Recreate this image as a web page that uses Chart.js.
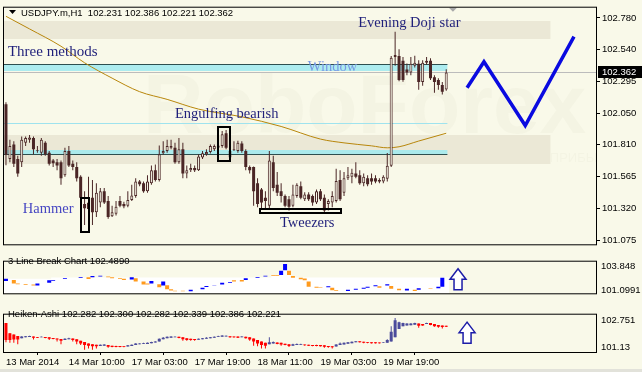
<!DOCTYPE html>
<html>
<head>
<meta charset="utf-8">
<script src="https://cdn.jsdelivr.net/npm/chart.js@4.4.1/dist/chart.umd.min.js"></script>
<style>
  html, body { margin: 0; padding: 0; background: #f9f9e9; }
  #wrap { position: relative; width: 642px; height: 372px; overflow: hidden; background: #f9f9e9; }
  #wrap canvas { position: absolute; left: 0; }
  #main { top: 0; }
  #lbreak { top: 251px; }
  #heiken { top: 304px; }
  #foot { position: absolute; left: 0; bottom: 0; width: 642px; height: 3px; background: #e2e2da; }
</style>
</head>
<body>
<div id="wrap">
  <canvas id="main" width="642" height="252"></canvas>
  <canvas id="lbreak" width="642" height="53"></canvas>
  <canvas id="heiken" width="642" height="68"></canvas>
  <div id="foot"></div>
</div>
<script>
// bar index range shown on the time axis
const xMin = -0.5;
const xMax = 150.1;

const priceTicks = [101.075, 101.320, 101.565, 101.810, 102.050, 102.295, 102.540, 102.780];
const lbTicks = [101.0991, 103.848];
const haTicks = [101.13, 102.751];

const timeBars = [0, 16, 32, 48, 64, 80, 96];
const timeLabels = ['13 Mar 2014', '14 Mar 10:00', '17 Mar 03:00', '17 Mar 19:00', '18 Mar 11:00', '19 Mar 03:00', '19 Mar 19:00'];

// USDJPY H1 candles
const opens = [
  102.117, 101.697, 101.808, 101.697, 101.672, 101.821, 101.845, 101.858, 101.759, 101.746,
  101.821, 101.746, 101.685, 101.672, 101.672, 101.573, 101.759, 101.660, 101.635, 101.561,
  101.351, 101.314, 101.400, 101.289, 101.363, 101.450, 101.375, 101.257, 101.277, 101.375,
  101.351, 101.338, 101.383, 101.413, 101.524, 101.511, 101.450, 101.511, 101.610, 101.536,
  101.741, 101.759, 101.783, 101.783, 101.672, 101.771, 101.586, 101.610, 101.628, 101.610,
  101.709, 101.734, 101.751, 101.771, 101.783, 101.796, 101.895, 101.709, 101.766, 101.759,
  101.816, 101.759, 101.635, 101.635, 101.511, 101.462, 101.400, 101.338, 101.672, 101.499,
  101.450, 101.413, 101.388, 101.338, 101.413, 101.487, 101.388, 101.425, 101.413, 101.363,
  101.450, 101.400, 101.351, 101.363, 101.375, 101.536, 101.437, 101.549, 101.561, 101.586,
  101.573, 101.511, 101.549, 101.549, 101.549, 101.536, 101.524, 101.546, 101.646, 102.480,
  102.488, 102.451, 102.385, 102.362, 102.414, 102.429, 102.288, 102.436, 102.451, 102.325,
  102.303, 102.266, 102.231
];
const highs = [
  102.132, 101.845, 101.833, 101.722, 101.870, 101.870, 101.882, 101.870, 101.796, 101.858,
  101.833, 101.759, 101.697, 101.697, 101.685, 101.783, 101.796, 101.685, 101.672, 101.573,
  101.450, 101.561, 101.536, 101.511, 101.474, 101.474, 101.413, 101.338, 101.375, 101.413,
  101.368, 101.450, 101.499, 101.549, 101.536, 101.524, 101.573, 101.647, 101.655, 101.801,
  101.833, 101.845, 101.845, 101.821, 101.858, 101.821, 101.647, 101.660, 101.647, 101.734,
  101.759, 101.771, 101.808, 101.808, 101.816, 101.912, 101.919, 101.771, 101.833, 101.838,
  101.833, 101.771, 101.647, 101.640, 101.549, 101.474, 101.450, 101.759, 101.722, 101.598,
  101.511, 101.425, 101.413, 101.499, 101.511, 101.524, 101.442, 101.442, 101.425, 101.462,
  101.467, 101.425, 101.388, 101.450, 101.623, 101.610, 101.598, 101.635, 101.623, 101.672,
  101.610, 101.586, 101.573, 101.586, 101.573, 101.549, 101.573, 101.743, 102.488, 102.674,
  102.540, 102.480, 102.430, 102.480, 102.490, 102.455, 102.455, 102.480, 102.470, 102.340,
  102.318, 102.288, 102.386
];
const lows = [
  101.650, 101.672, 101.635, 101.561, 101.635, 101.796, 101.821, 101.734, 101.746, 101.722,
  101.722, 101.647, 101.635, 101.610, 101.499, 101.561, 101.635, 101.610, 101.524, 101.388,
  101.190, 101.289, 101.190, 101.252, 101.326, 101.351, 101.239, 101.252, 101.264, 101.326,
  101.319, 101.326, 101.375, 101.400, 101.487, 101.437, 101.437, 101.499, 101.524, 101.524,
  101.729, 101.746, 101.771, 101.660, 101.660, 101.549, 101.549, 101.598, 101.598, 101.605,
  101.697, 101.722, 101.739, 101.759, 101.771, 101.783, 101.771, 101.697, 101.759, 101.746,
  101.746, 101.610, 101.586, 101.338, 101.326, 101.314, 101.314, 101.314, 101.450, 101.413,
  101.363, 101.326, 101.301, 101.326, 101.400, 101.388, 101.375, 101.375, 101.338, 101.351,
  101.375, 101.289, 101.301, 101.326, 101.363, 101.375, 101.413, 101.536, 101.511, 101.549,
  101.499, 101.487, 101.487, 101.499, 101.511, 101.511, 101.511, 101.524, 101.635, 102.414,
  102.295, 102.290, 102.340, 102.340, 102.400, 102.229, 102.260, 102.420, 102.303, 102.206,
  102.229, 102.192, 102.221
];
const closes = [
  101.730, 101.796, 101.660, 101.586, 101.845, 101.858, 101.863, 101.771, 101.764, 101.845,
  101.734, 101.660, 101.665, 101.647, 101.549, 101.759, 101.647, 101.635, 101.549, 101.400,
  101.319, 101.363, 101.289, 101.437, 101.450, 101.363, 101.252, 101.289, 101.331, 101.338,
  101.334, 101.383, 101.417, 101.524, 101.504, 101.450, 101.524, 101.610, 101.536, 101.734,
  101.759, 101.796, 101.796, 101.672, 101.771, 101.586, 101.610, 101.628, 101.610, 101.717,
  101.741, 101.751, 101.796, 101.796, 101.801, 101.887, 101.783, 101.759, 101.771, 101.821,
  101.759, 101.635, 101.610, 101.450, 101.351, 101.363, 101.375, 101.685, 101.474, 101.437,
  101.413, 101.338, 101.331, 101.425, 101.499, 101.400, 101.425, 101.388, 101.363, 101.450,
  101.388, 101.301, 101.375, 101.413, 101.529, 101.388, 101.549, 101.573, 101.591, 101.561,
  101.511, 101.561, 101.504, 101.524, 101.524, 101.524, 101.561, 101.646, 102.474, 102.495,
  102.303, 102.303, 102.362, 102.429, 102.436, 102.288, 102.436, 102.451, 102.318, 102.288,
  102.266, 102.214, 102.362
];

// moving average
const maBars = [0, 6, 14, 20, 27, 34, 41, 49, 60, 70, 80, 86, 93, 97, 100, 105, 112];
const maValues = [102.793, 102.696, 102.563, 102.436, 102.318, 102.214, 102.155, 102.080, 102.021, 101.947,
  101.850, 101.821, 101.798, 101.783, 101.791, 101.835, 101.895];

// forecast zigzag
const forecastBars = [117.3, 121.6, 132.1, 144.5];
const forecastValues = [102.244, 102.444, 101.954, 102.637];

// levels
const upperZone = [102.755, 102.622];
const lowerZone = [101.880, 101.657];
const zoneEndBar = 138.5;
const windowBand = [102.429, 102.370];
const supportBand = [101.769, 101.732];
const levelLine = 101.976;
const bandEndBar = 112.3;

// 3 Line Break bricks
const lbBars = [0, 2, 3, 5, 7, 8, 11, 12, 15, 19, 21, 22, 24, 26, 27, 29, 30, 32, 33, 35, 36, 37, 39, 40, 41, 42, 43, 45,
  47, 50, 51, 53, 55, 57, 58, 60, 61, 64, 66, 68, 69, 70, 71, 72, 73, 75, 76, 77, 79, 80, 82, 83, 84, 87, 89, 91, 92,
  94, 95, 97, 98, 100, 102, 104, 105, 108, 110, 111];
const lbLow = [102.137, 101.847, 101.775, 101.678, 101.606, 101.606, 101.920, 102.161, 102.354, 102.474, 102.354, 102.547,
  102.643, 102.547, 102.450, 102.354, 102.257, 102.305, 102.088, 101.727, 101.727, 101.847, 101.413, 101.606, 101.196,
  101.052, 100.955, 100.955, 100.955, 101.196, 101.437, 101.606, 101.727, 101.920, 102.088, 102.088, 102.257, 102.498,
  102.643, 102.739, 102.739, 102.812, 103.366, 102.812, 102.498, 102.330, 102.209, 101.486, 101.365, 101.365, 101.413,
  101.076, 101.003, 101.003, 101.124, 101.245, 101.365, 101.534, 101.365, 101.606, 101.245, 101.076, 101.052, 101.003,
  101.124, 101.245, 101.293, 101.486];
const lbHigh = [102.378, 102.257, 101.847, 101.775, 101.727, 101.847, 102.209, 102.257, 102.450, 102.547, 102.547, 102.691,
  102.739, 102.643, 102.547, 102.450, 102.378, 102.547, 102.450, 102.088, 101.847, 102.137, 101.775, 102.088, 101.654,
  101.196, 101.030, 101.030, 101.124, 101.365, 101.558, 101.654, 101.920, 102.016, 102.209, 102.257, 102.450, 102.595,
  102.739, 102.812, 102.812, 103.294, 104.065, 103.294, 102.691, 102.498, 102.402, 102.088, 101.486, 101.413, 101.534,
  101.365, 101.076, 101.124, 101.245, 101.365, 101.486, 101.654, 101.534, 101.775, 101.558, 101.245, 101.245, 101.124,
  101.317, 101.317, 101.486, 102.489];
const lbUp = [1, 0, 0, 0, 0, 1, 1, 1, 1, 1, 0, 1, 1, 0, 0, 0, 0, 1, 0, 0, 0, 1, 0, 1, 0, 0, 0, 0,
  1, 1, 1, 1, 1, 1, 0, 0, 1, 1, 1, 0, 0, 1, 1, 0, 0, 0, 0, 0, 0, 0, 1, 0, 0, 1, 1, 1, 1,
  1, 0, 1, 0, 0, 1, 0, 1, 0, 1, 1];
const lbShadeBars = [-0.5, 11.5, 67.5, 69.5, 70.5, 71.5, 72.5, 112.7];
const lbShadeTop = [102.38, 102.52, 102.81, 103.29, 104.06, 103.29, 102.52, 102.52];

// Heiken-Ashi
const haOpen = [
  102.604, 101.998, 101.916, 101.834, 101.704, 101.753, 101.769, 101.802, 101.769, 101.753,
  101.769, 101.753, 101.720, 101.687, 101.654, 101.589, 101.638, 101.687, 101.638, 101.556,
  101.474, 101.392, 101.343, 101.311, 101.245, 101.261, 101.294, 101.261, 101.245, 101.245,
  101.229, 101.212, 101.245, 101.294, 101.343, 101.360, 101.360, 101.409, 101.441, 101.507,
  101.638, 101.704, 101.736, 101.753, 101.785, 101.753, 101.704, 101.671, 101.654, 101.605,
  101.638, 101.671, 101.704, 101.736, 101.769, 101.785, 101.802, 101.818, 101.802, 101.802,
  101.753, 101.785, 101.753, 101.687, 101.589, 101.507, 101.425, 101.343, 101.392, 101.441,
  101.425, 101.376, 101.343, 101.261, 101.294, 101.294, 101.327, 101.311, 101.294, 101.294,
  101.294, 101.278, 101.245, 101.229, 101.212, 101.294, 101.327, 101.376, 101.409, 101.458,
  101.523, 101.490, 101.474, 101.458, 101.458, 101.441, 101.425, 101.425, 101.507, 101.753,
  102.244, 102.408, 102.457, 102.473, 102.506, 102.571, 102.539, 102.539, 102.604, 102.539,
  102.489, 102.457, 102.440
];
const haClose = [
  101.589, 101.589, 101.622, 101.622, 101.802, 101.818, 101.834, 101.736, 101.736, 101.785,
  101.720, 101.671, 101.654, 101.622, 101.556, 101.671, 101.704, 101.589, 101.507, 101.392,
  101.294, 101.261, 101.229, 101.229, 101.311, 101.327, 101.196, 101.180, 101.180, 101.180,
  101.180, 101.278, 101.311, 101.392, 101.392, 101.409, 101.425, 101.474, 101.507, 101.671,
  101.736, 101.785, 101.802, 101.785, 101.720, 101.638, 101.589, 101.589, 101.589, 101.671,
  101.704, 101.736, 101.753, 101.785, 101.818, 101.867, 101.851, 101.753, 101.753, 101.736,
  101.802, 101.704, 101.622, 101.507, 101.392, 101.294, 101.261, 101.458, 101.474, 101.360,
  101.327, 101.294, 101.245, 101.343, 101.360, 101.343, 101.278, 101.261, 101.245, 101.245,
  101.229, 101.196, 101.180, 101.163, 101.327, 101.392, 101.425, 101.458, 101.490, 101.523,
  101.458, 101.425, 101.425, 101.409, 101.409, 101.409, 101.458, 101.589, 102.080, 102.768,
  102.653, 102.604, 102.571, 102.571, 102.604, 102.440, 102.457, 102.604, 102.489, 102.408,
  102.375, 102.359, 102.375
];
const haHigh = [
  102.604, 101.998, 101.916, 101.834, 101.818, 101.834, 101.851, 101.802, 101.769, 101.802,
  101.769, 101.753, 101.720, 101.687, 101.654, 101.704, 101.736, 101.687, 101.638, 101.556,
  101.474, 101.392, 101.343, 101.311, 101.327, 101.343, 101.294, 101.261, 101.261, 101.245,
  101.229, 101.294, 101.327, 101.409, 101.409, 101.425, 101.441, 101.490, 101.523, 101.687,
  101.769, 101.802, 101.818, 101.818, 101.785, 101.753, 101.704, 101.671, 101.654, 101.687,
  101.720, 101.753, 101.769, 101.802, 101.851, 101.883, 101.867, 101.818, 101.802, 101.802,
  101.818, 101.785, 101.753, 101.687, 101.589, 101.507, 101.425, 101.753, 101.507, 101.441,
  101.425, 101.376, 101.343, 101.376, 101.392, 101.376, 101.327, 101.311, 101.294, 101.311,
  101.294, 101.278, 101.245, 101.229, 101.343, 101.441, 101.441, 101.474, 101.507, 101.540,
  101.523, 101.490, 101.474, 101.458, 101.458, 101.441, 101.474, 101.638, 102.408, 102.899,
  102.670, 102.620, 102.587, 102.587, 102.620, 102.571, 102.539, 102.620, 102.604, 102.539,
  102.489, 102.457, 102.440
];
const haLow = [
  101.458, 101.425, 101.425, 101.343, 101.704, 101.753, 101.769, 101.622, 101.720, 101.753,
  101.704, 101.589, 101.638, 101.507, 101.343, 101.589, 101.638, 101.507, 101.343, 101.294,
  101.016, 101.098, 101.016, 101.098, 101.245, 101.261, 101.130, 101.163, 101.163, 101.163,
  101.163, 101.212, 101.245, 101.294, 101.343, 101.360, 101.360, 101.409, 101.441, 101.507,
  101.638, 101.704, 101.736, 101.753, 101.704, 101.556, 101.556, 101.556, 101.556, 101.605,
  101.638, 101.671, 101.704, 101.736, 101.769, 101.785, 101.802, 101.736, 101.736, 101.720,
  101.753, 101.687, 101.556, 101.261, 101.229, 101.098, 101.098, 101.343, 101.392, 101.343,
  101.261, 101.278, 101.180, 101.261, 101.294, 101.294, 101.261, 101.245, 101.229, 101.229,
  101.212, 101.130, 101.130, 101.098, 101.212, 101.294, 101.327, 101.376, 101.409, 101.458,
  101.441, 101.409, 101.409, 101.392, 101.392, 101.392, 101.425, 101.425, 101.507, 101.753,
  102.244, 102.408, 102.457, 102.473, 102.506, 102.326, 102.440, 102.539, 102.473, 102.375,
  102.326, 102.277, 102.359
];

const bgColor = '#f9f9e9';
const candleColor = '#4b2626';
const axisFont = { family: '"Liberation Sans", Arial, sans-serif', size: 9.5 };
const lastBar = closes.length - 1;

const wicks = [], bearBodies = [], bullBodies = [];
opens.forEach((o, i) => {
    const c = closes[i];
    wicks.push({ x: i, y: [lows[i], highs[i]] });
    if (c < o) bearBodies.push({ x: i, y: [c, o] });
    else bullBodies.push({ x: i, y: [o, Math.max(c, o + 0.003)] });
});

const haWicks = [], haUpBodies = [], haDownBodies = [];
haOpen.forEach((o, i) => {
    const c = haClose[i];
    haWicks.push({ x: i, y: [haLow[i], haHigh[i]], up: c >= o });
    if (c >= o) haUpBodies.push({ x: i, y: [o, Math.max(c, o + 0.02)] });
    else haDownBodies.push({ x: i, y: [c, o] });
});

const panelFrame = {
    id: 'panelFrame',
    afterDraw(chart) {
        const { ctx, chartArea: a } = chart;
        ctx.save();
        ctx.strokeStyle = '#000';
        ctx.lineWidth = 1;
        ctx.strokeRect(a.left - 0.5, a.top - 0.5, a.width + 1, a.height + 1);
        ctx.restore();
    }
};

function upArrow(ctx, cx, top, w, h) {
    const hh = h * 0.5, sw = w * 0.5;
    ctx.save();
    ctx.beginPath();
    ctx.moveTo(cx, top);
    ctx.lineTo(cx + w / 2, top + hh);
    ctx.lineTo(cx + sw / 2, top + hh);
    ctx.lineTo(cx + sw / 2, top + h);
    ctx.lineTo(cx - sw / 2, top + h);
    ctx.lineTo(cx - sw / 2, top + hh);
    ctx.lineTo(cx - w / 2, top + hh);
    ctx.closePath();
    ctx.fillStyle = '#ffffff';
    ctx.fill();
    ctx.strokeStyle = '#1c1ca8';
    ctx.lineWidth = 1.5;
    ctx.stroke();
    ctx.restore();
}

function panelTitle(ctx, text, y) {
    ctx.save();
    ctx.fillStyle = '#000';
    ctx.font = '9.5px "Liberation Sans", Arial, sans-serif';
    ctx.textBaseline = 'middle';
    ctx.fillText(text, 8, y);
    ctx.restore();
}

const mainDecor = {
    id: 'mainDecor',
    beforeDatasetsDraw(chart) {
        const { ctx, chartArea: a, scales: { x, y } } = chart;
        const yy = v => Math.round(y.getPixelForValue(v));
        ctx.save();
        ctx.beginPath();
        ctx.rect(a.left, a.top, a.width, a.height);
        ctx.clip();

        // faint watermark
        ctx.fillStyle = 'rgba(110,110,90,0.035)';
        ctx.font = 'bold 84px "Liberation Sans", Arial, sans-serif';
        ctx.fillText('RoboForex', 143, 133);
        ctx.font = '13px "Liberation Sans", Arial, sans-serif';
        ctx.fillText('ИСПОЛЬЗУЙ РОБОТОВ – ПОЛУЧАЙ ПРИБЫЛЬ', 322, 162);

        const zoneRight = x.getPixelForValue(zoneEndBar);
        ctx.fillStyle = '#ebe8d6';
        [upperZone, lowerZone].forEach(z => {
            ctx.fillRect(a.left, yy(z[0]), zoneRight - a.left, yy(z[1]) - yy(z[0]));
        });

        const bandRight = x.getPixelForValue(bandEndBar);
        ctx.fillStyle = 'rgba(160,234,240,0.85)';
        [windowBand, supportBand].forEach(z => {
            ctx.fillRect(a.left, yy(z[0]), bandRight - a.left, yy(z[1]) - yy(z[0]));
        });
        ctx.fillStyle = '#2e4f4f';
        ctx.fillRect(a.left, yy(windowBand[0]), bandRight - a.left, 1);
        ctx.fillRect(a.left, yy(supportBand[1]), bandRight - a.left, 1);
        ctx.fillStyle = '#9fe3ee';
        ctx.fillRect(a.left, yy(levelLine), bandRight - a.left, 1);
        ctx.fillStyle = '#bcbcbc';
        ctx.fillRect(a.left, yy(closes[lastBar]), a.width, 1);
        ctx.restore();
    },
    afterDatasetsDraw(chart) {
        const { ctx, scales: { x, y } } = chart;
        ctx.save();
        ctx.strokeStyle = '#000';
        ctx.lineWidth = 2;
        [[19.1, 21.1, 101.398, 101.138], [54.0, 57.0, 101.939, 101.680], [64.6, 85.2, 101.312, 101.279]].forEach(b => {
            const x1 = Math.round(x.getPixelForValue(b[0])), x2 = Math.round(x.getPixelForValue(b[1]));
            const y1 = Math.round(y.getPixelForValue(b[2])), y2 = Math.round(y.getPixelForValue(b[3]));
            ctx.strokeRect(x1, y1, x2 - x1, y2 - y1);
        });

        const notes = [
            ['Three methods', 0.5, 102.488, '#1f1f7a', 15],
            ['Engulfing bearish', 43.0, 102.013, '#1f1f7a', 14.5],
            ['Evening Doji star', 89.6, 102.711, '#1f1f7a', 14.5],
            ['Window', 76.8, 102.370, '#7898e4', 14.5],
            ['Hammer', 4.3, 101.279, '#4646c2', 14.5],
            ['Tweezers', 69.7, 101.175, '#1f1f7a', 14.5]
        ];
        ctx.textBaseline = 'alphabetic';
        notes.forEach(n => {
            ctx.font = n[4] + 'px "Liberation Serif", "Times New Roman", serif';
            ctx.fillStyle = n[3];
            ctx.fillText(n[0], x.getPixelForValue(n[1]), y.getPixelForValue(n[2]));
        });
        ctx.restore();
    },
    afterDraw(chart) {
        const { ctx, chartArea: a, scales: { x, y } } = chart;
        ctx.save();
        ctx.fillStyle = '#000';
        ctx.beginPath();
        ctx.moveTo(9, 10); ctx.lineTo(16, 10); ctx.lineTo(12.5, 14);
        ctx.fill();
        const ohlc = [opens, highs, lows, closes].map(s => s[lastBar].toFixed(3)).join(' ');
        ctx.font = '9.5px "Liberation Sans", Arial, sans-serif';
        ctx.textBaseline = 'middle';
        ctx.fillText('USDJPY.m,H1  ' + ohlc, 21, 13);

        const tx = x.getPixelForValue(113.7);
        ctx.fillStyle = '#a8a8a8';
        ctx.beginPath();
        ctx.moveTo(tx - 4, a.top); ctx.lineTo(tx + 4, a.top); ctx.lineTo(tx, a.top + 4);
        ctx.fill();

        const py = Math.round(y.getPixelForValue(closes[lastBar]));
        ctx.fillStyle = '#000';
        ctx.fillRect(a.right + 2, py - 6, 44, 12);
        ctx.fillStyle = '#fff';
        ctx.fillText(closes[lastBar].toFixed(3), a.right + 6, py);
        ctx.restore();
    }
};

const lbDecor = {
    id: 'lbDecor',
    afterDraw(chart) {
        const { ctx, scales: { x, y } } = chart;
        panelTitle(ctx, '3 Line Break Chart ' + lbHigh[lbHigh.length - 1].toFixed(4), 10);
        upArrow(ctx, x.getPixelForValue(115), y.getPixelForValue(103.518), 16, 21);
    }
};

const haDecor = {
    id: 'haDecor',
    afterDraw(chart) {
        const { ctx, scales: { x, y } } = chart;
        panelTitle(ctx, 'Heiken-Ashi 102.282 102.300 102.282 102.339 102.386 102.221', 10);
        upArrow(ctx, x.getPixelForValue(117.3), y.getPixelForValue(102.653), 16, 21);
    }
};

function sideAxis(min, max, ticks, fmt) {
    return {
        type: 'linear', position: 'right', min: min, max: max,
        afterBuildTicks: s => { s.ticks = ticks.map(v => ({ value: v })); },
        afterFit: s => { s.width = 46; },
        ticks: { autoSkip: false, padding: 5, color: '#000', font: axisFont, callback: fmt },
        grid: { display: false, drawTicks: false },
        border: { display: false }
    };
}

const charts = {
    main: new Chart(document.getElementById('main'), {
        type: 'bar',
        data: {
            datasets: [
                { data: wicks, backgroundColor: candleColor, barThickness: 1, grouped: false, inflateAmount: 0, order: 3 },
                { data: bearBodies, backgroundColor: candleColor, barThickness: 3, grouped: false, inflateAmount: 0, order: 2 },
                {
                    data: bullBodies, backgroundColor: bgColor, borderColor: candleColor, borderWidth: 1,
                    borderSkipped: false, barThickness: 3, grouped: false, inflateAmount: 0, order: 2
                },
                {
                    type: 'line', data: maBars.map((b, i) => ({ x: b, y: maValues[i] })),
                    borderColor: '#b8860b', borderWidth: 1, pointRadius: 0, cubicInterpolationMode: 'monotone', order: 4
                },
                {
                    type: 'line', data: forecastBars.map((b, i) => ({ x: b, y: forecastValues[i] })),
                    borderColor: '#0a0ae0', borderWidth: 3.5, pointRadius: 0, borderJoinStyle: 'miter', order: 1
                }
            ]
        },
        options: {
            responsive: false,
            animation: false,
            devicePixelRatio: 1,
            layout: { padding: { left: 4, right: 0, top: 5, bottom: 2 } },
            plugins: { legend: { display: false }, tooltip: { enabled: false } },
            scales: {
                x: { type: 'linear', min: xMin, max: xMax, offset: false, display: false },
                y: {
                    type: 'linear', position: 'right', min: 101.042, max: 102.859,
                    afterBuildTicks: s => { s.ticks = priceTicks.map(v => ({ value: v })); },
                    afterFit: s => { s.width = 46; },
                    ticks: { autoSkip: false, padding: 2, color: '#000', font: axisFont, callback: v => Number(v).toFixed(3) },
                    grid: { drawOnChartArea: false, drawTicks: true, tickLength: 4, color: '#000' },
                    border: { display: false }
                }
            }
        },
        plugins: [mainDecor, panelFrame]
    }),
    lineBreak: new Chart(document.getElementById('lbreak'), {
        type: 'bar',
        data: {
            datasets: [
                {
                    type: 'line', data: lbShadeBars.map((b, i) => ({ x: b, y: lbShadeTop[i] })),
                    stepped: true, fill: 'start', backgroundColor: '#ffffff', borderWidth: 0, pointRadius: 0, order: 5
                },
                {
                    data: lbBars.map((b, i) => ({ x: b, y: [lbLow[i], lbHigh[i]] })).filter((d, i) => lbUp[i]),
                    backgroundColor: '#0000ff', barThickness: 4, grouped: false, inflateAmount: 0, order: 1
                },
                {
                    data: lbBars.map((b, i) => ({ x: b, y: [lbLow[i], lbHigh[i]] })).filter((d, i) => !lbUp[i]),
                    backgroundColor: '#ff9a1c', barThickness: 4, grouped: false, inflateAmount: 0, order: 1
                }
            ]
        },
        options: {
            responsive: false,
            animation: false,
            devicePixelRatio: 1,
            layout: { padding: { left: 4, right: 0, top: 2, bottom: 1 } },
            plugins: { legend: { display: false }, tooltip: { enabled: false } },
            scales: {
                x: { type: 'linear', min: xMin, max: xMax, offset: false, display: false },
                y: sideAxis(100.733, 104.324, lbTicks, v => String(v))
            }
        },
        plugins: [lbDecor, panelFrame]
    }),
    heiken: new Chart(document.getElementById('heiken'), {
        type: 'bar',
        data: {
            datasets: [
                {
                    data: haWicks, backgroundColor: haWicks.map(d => d.up ? '#4b4b9b' : '#ff0000'),
                    barThickness: 1, grouped: false, inflateAmount: 0, order: 2
                },
                { data: haUpBodies, backgroundColor: '#4b4b9b', barThickness: 3, grouped: false, inflateAmount: 0, order: 1 },
                { data: haDownBodies, backgroundColor: '#ff0000', barThickness: 3, grouped: false, inflateAmount: 0, order: 1 }
            ]
        },
        options: {
            responsive: false,
            animation: false,
            devicePixelRatio: 1,
            layout: { padding: { left: 4, right: 0, top: 2, bottom: 3 } },
            plugins: { legend: { display: false }, tooltip: { enabled: false } },
            scales: {
                x: {
                    type: 'linear', min: xMin, max: xMax, offset: false, position: 'bottom',
                    afterBuildTicks: s => { s.ticks = timeBars.map(v => ({ value: v })); },
                    afterFit: s => { s.height = 17; },
                    ticks: {
                        autoSkip: false, maxRotation: 0, align: 'start', padding: 2, color: '#000',
                        font: axisFont, callback: (v, i) => timeLabels[i]
                    },
                    grid: { drawOnChartArea: false, drawTicks: true, tickLength: 3, color: '#000' },
                    border: { display: false }
                },
                y: sideAxis(100.884, 103.095, haTicks, v => String(v))
            }
        },
        plugins: [haDecor, panelFrame]
    })
};
</script>
</body>
</html>
